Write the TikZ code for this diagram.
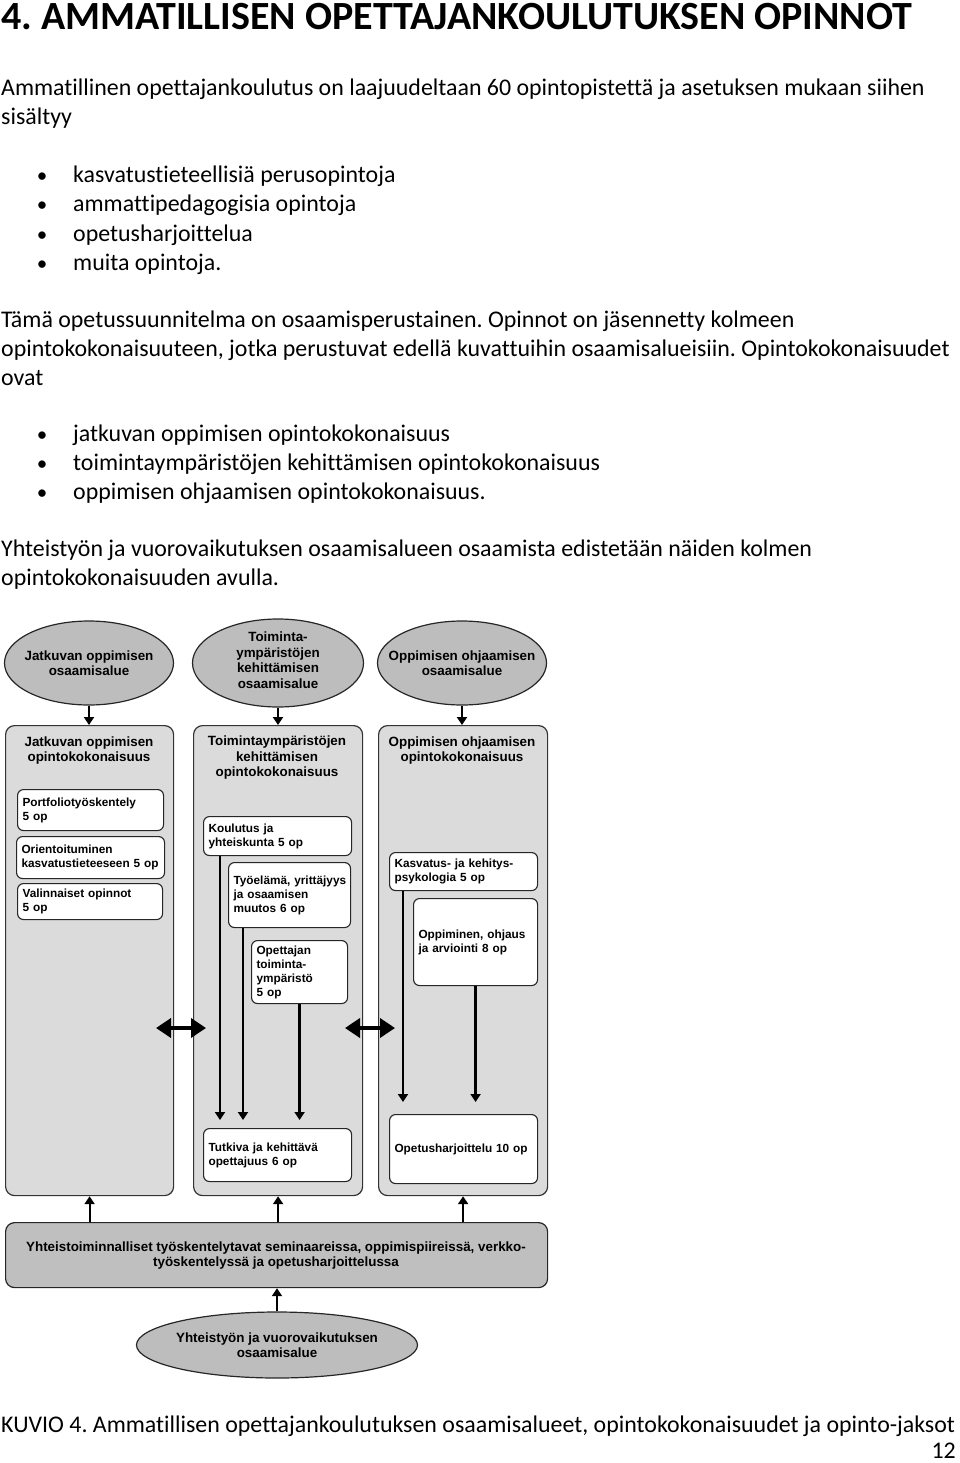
\documentclass[tikz,border=0pt]{standalone}
\usepackage{fontspec}
\setmainfont{Carlito}[Ligatures=NoCommon]
\newfontfamily\dia{Liberation Sans}
\usetikzlibrary{arrows.meta,shapes.geometric,calc}
\frenchspacing
\newcommand\nohyphset{\hyphenpenalty=10000\relax\exhyphenpenalty=10000\relax\hbadness=10000\relax\hfuzz=20pt\relax}
\begin{document}
\begin{tikzpicture}[x=1pt,y=-1pt,
  txt/.style={anchor=base west, inner sep=0pt, font=\fontsize{23.9}{29}\selectfont},
  bul/.style={anchor=base, inner sep=0pt, font=\fontsize{21}{29}\selectfont},
  ell/.style={ellipse, draw=black!85, line width=1.2pt, fill=black!26, inner sep=0pt},
  panel/.style={draw=black!80, line width=1.2pt, fill=black!14, rounded corners=9pt, inner sep=0pt, anchor=north west},
  sbox/.style={draw=black!85, line width=1.1pt, fill=white, rounded corners=6pt, inner xsep=5pt, inner ysep=0pt, align=left, anchor=north west, font=\dia\bfseries\fontsize{11.8}{14}\selectfont\nohyphset},
  ttl/.style={inner sep=0pt, align=center, font=\dia\bfseries\fontsize{13.4}{15.5}\selectfont},
  arr/.style={line width=2.2pt, -{Triangle[length=8pt,width=10pt]}},
  darr/.style={line width=3.6pt, {Triangle[length=15pt,width=19pt]}-{Triangle[length=15pt,width=19pt]}}
]
\useasboundingbox (0,0) rectangle (960,1463);

% ---------- text ----------
\node[txt, font=\bfseries\fontsize{40}{44}\selectfont] (h) at (1,30) {4. AMMATILLISEN OPETTAJANKOULUTUKSEN OPINNOT};
\node[txt] (l1) at (1,96) {Ammatillinen opettajankoulutus on laajuudeltaan 60 opintopistettä ja asetuksen mukaan siihen};
\node[txt] (l2) at (1,125) {sisältyy};
\node[bul] (u1) at (42,183) {•}; \node[txt] (a1) at (73,183) {kasvatustieteellisiä perusopintoja};
\node[bul] (u2) at (42,212) {•}; \node[txt] (a2) at (73,212) {ammattipedagogisia opintoja};
\node[bul] (u3) at (42,241) {•}; \node[txt] (a3) at (73,241) {opetusharjoittelua};
\node[bul] (u4) at (42,270) {•}; \node[txt] (a4) at (73,270) {muita opintoja.};
\node[txt] (l3) at (1,327) {Tämä opetussuunnitelma on osaamisperustainen. Opinnot on jäsennetty kolmeen};
\node[txt] (l4) at (1,356) {opintokokonaisuuteen, jotka perustuvat edellä kuvattuihin osaamisalueisiin. Opintokokonaisuudet};
\node[txt] (l5) at (1,385) {ovat};
\node[bul] (v1) at (42,441) {•}; \node[txt] (c1) at (73,441) {jatkuvan oppimisen opintokokonaisuus};
\node[bul] (v2) at (42,470) {•}; \node[txt] (c2) at (73,470) {toimintaympäristöjen kehittämisen opintokokonaisuus};
\node[bul] (v3) at (42,499) {•}; \node[txt] (c3) at (73,499) {oppimisen ohjaamisen opintokokonaisuus.};
\node[txt] (l6) at (1,556) {Yhteistyön ja vuorovaikutuksen osaamisalueen osaamista edistetään näiden kolmen};
\node[txt] (l7) at (1,585) {opintokokonaisuuden avulla.};
\node[txt] (cap) at (1,1432) {KUVIO 4. Ammatillisen opettajankoulutuksen osaamisalueet, opintokokonaisuudet ja opinto-jaksot};
\node[txt, anchor=base east] (pg) at (956,1458) {12};

% ---------- top ellipses ----------
\node[ell, minimum width=169pt, minimum height=84pt] (e1) at (89,663) {};
\node[ttl] (e1t) at (e1.center) {Jatkuvan oppimisen\\osaamisalue};
\node[ell, minimum width=171pt, minimum height=88pt] (e2) at (278,663) {};
\node[ttl] (e2t) at (278,660) {Toiminta-\\ympäristöjen\\kehittämisen\\osaamisalue};
\node[ell, minimum width=169pt, minimum height=84pt] (e3) at (462,663) {};
\node[ttl] (e3t) at (e3.center) {Oppimisen ohjaamisen\\osaamisalue};

% ---------- panels ----------
\node[panel, minimum width=168pt, minimum height=470pt] (p1) at (5,725) {};
\node[panel, minimum width=169pt, minimum height=470pt] (p2) at (193,725) {};
\node[panel, minimum width=169pt, minimum height=470pt] (p3) at (378,725) {};
\node[ttl] (t1) at (89,750.5) {Jatkuvan oppimisen\\opintokokonaisuus};
\node[ttl] (t2) at (277,758) {Toimintaympäristöjen\\kehittämisen\\opintokokonaisuus};
\node[ttl] (t3) at (462,750.5) {Oppimisen ohjaamisen\\opintokokonaisuus};

% ---------- study boxes ----------
\node[sbox, text width=136pt, minimum height=41pt] (b1) at (17,789) {Portfoliotyöskentely\\5~op};
\node[sbox, text width=138pt, minimum height=42pt] (b2) at (16,836) {Orientoituminen\\kasvatustieteeseen~5~op};
\node[sbox, text width=135pt, minimum height=36pt] (b3) at (17,883) {Valinnaiset~opinnot\\5~op};

\node[sbox, text width=138pt, minimum height=39pt] (k) at (203,816) {Koulutus~ja\\yhteiskunta~5~op};
\node[sbox, text width=112pt, minimum height=65pt] (ty) at (228,862) {Työelämä,~yrittäjyys\\ja~osaamisen\\muutos~6~op};
\node[sbox, text width=86pt, minimum height=63pt] (op) at (251,940) {Opettajan\\toiminta-\\ympäristö\\5~op};
\node[sbox, text width=138pt, minimum height=53pt] (tk) at (203,1128) {Tutkiva~ja~kehittävä\\opettajuus~6~op};

\node[sbox, text width=138pt, minimum height=38pt] (ka) at (389,852) {Kasvatus-~ja~kehitys-\\psykologia~5~op};
\node[sbox, text width=114pt, minimum height=87pt] (oo) at (413,898) {Oppiminen,~ohjaus\\ja~arviointi~8~op};
\node[sbox, text width=138pt, minimum height=69pt] (oh) at (389,1114) {Opetusharjoittelu~10~op};

% ---------- bottom ----------
\node[draw=black!85, line width=1.2pt, fill=black!25, rounded corners=9pt, anchor=north west, minimum width=542pt, minimum height=65pt, inner sep=0pt] (bb) at (5,1222) {};
\node[ttl] (bbt) at (276,1255.5) {Yhteistoiminnalliset työskentelytavat seminaareissa, oppimispiireissä, verkko-\\työskentelyssä ja opetusharjoittelussa};
\node[ell, minimum width=281pt, minimum height=66pt] (eb) at (277,1345) {};
\node[ttl] (ebt) at (eb.center) {Yhteistyön ja vuorovaikutuksen\\osaamisalue};

% ---------- connectors ----------
\draw[arr] (e1.south) -- (e1.south |- p1.north);
\draw[arr] (e2.south) -- (e2.south |- p2.north);
\draw[arr] (e3.south) -- (e3.south |- p3.north);

\coordinate (k1) at ([xshift=17pt]k.south west);
\coordinate (ty1) at ([xshift=15pt]ty.south west);
\draw[arr, shorten >=8pt] (k1) -- (k1 |- tk.north);
\draw[arr, shorten >=8pt] (ty1) -- (ty1 |- tk.north);
\draw[arr, shorten >=8pt] (op.south) -- (op.south |- tk.north);

\coordinate (ka1) at ([xshift=14pt]ka.south west);
\draw[arr, shorten >=12pt] (ka1) -- (ka1 |- oh.north);
\draw[arr, shorten >=12pt] (oo.south) -- (oo.south |- oh.north);

\coordinate (d1a) at (156,1028);
\coordinate (d1b) at (206,1028);
\coordinate (d2a) at (345,1028);
\coordinate (d2b) at (395,1028);
\draw[darr] (d1a) -- (d1b);
\draw[darr] (d2a) -- (d2b);

\draw[arr] (bb.north -| p1.south) -- (p1.south);
\draw[arr] (bb.north -| p2.south) -- (p2.south);
\draw[arr] (bb.north -| p3.south) -- (p3.south);
\draw[arr] (eb.north) -- (eb.north |- bb.south);
\end{tikzpicture}
\end{document}
